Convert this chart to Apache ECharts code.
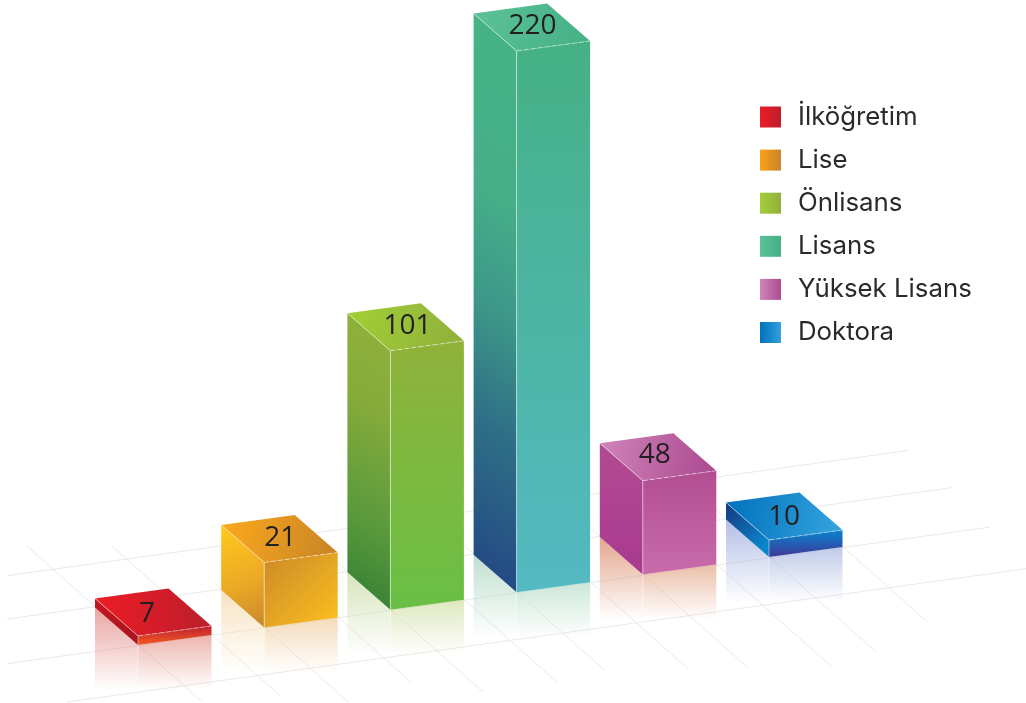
<!DOCTYPE html>
<html><head><meta charset="utf-8">
<style>html,body{margin:0;padding:0;background:#fff}#c{width:1026px;height:703px}</style>
<script src="https://cdn.jsdelivr.net/npm/echarts@6/dist/echarts.min.js"></script>
</head><body><div id="c"></div>
<script>
// Category names and the numbers printed on the bars
const categories = ['İlköğretim', 'Lise', 'Önlisans', 'Lisans', 'Yüksek Lisans', 'Doktora'];
const printedValues = [7, 21, 101, 220, 48, 10];
// The drawn bars are not proportional to the printed numbers: heights, in axis units
const drawnHeights = [3.7, 26.4, 105.3, 220, 38.2, 6.9];

const LEGEND_FONT = 'Inter', LABEL_FONT = '"Open Sans"';
const LEFT = [-43, -37.5], RIGHT = [73.5, -10];   // projection of a bar's footprint edges
const FLOOR_RISE = 17.6;                          // floor climbs this much per category
const REFLECT = 45;

const lin = (x, y, x2, y2, ...cols) => ({
  type: 'linear', x, y, x2, y2,
  colorStops: cols.map(c => ({ offset: c[0], color: c[1] }))
});
const two = (x, y, x2, y2, a, b) => lin(x, y, x2, y2, [0, a], [1, b]);
const skins = [
  { top: two(0,0,1,0,'#ed1c24','#bb1e2d'), left: two(0,0,1,1,'#c4161f','#a8141f'), right: two(0,0,0,1,'#bf1f2e','#f15a24'),
    legend: two(0,0,1,0,'#ed1c24','#be1e2d'), rl:'rgba(225,130,125,.72)', rr:'rgba(225,135,125,.62)', dx: 9, dy: -22 },
  { top: two(0,0,1,.6,'#fca91c','#c98527'), left: lin(0,0,1,1,[0,'#ffc91a'],[.55,'#ecaa26'],[1,'#c9872a']), right: two(0,0,1,1,'#cc8928','#fcc01f'),
    legend: two(0,0,1,0,'#f9a11b','#c98527'), rl:'rgba(245,215,165,.7)', rr:'rgba(240,205,160,.72)', dx: 16, dy: -24 },
  { top: two(0,0,1,.6,'#a2d035','#8fb03c'), left: lin(2.5,0,-1.5,1,[.12,'#90b23b'],[.35,'#86ab3b'],[.65,'#5a9a3c'],[.88,'#357f34']), right: two(0,0,0,1,'#8fb23a','#69bf45'),
    legend: two(0,0,1,0,'#a4cd39','#8fb03c'), rl:'rgba(205,222,170,.8)', rr:'rgba(214,226,175,.8)', dx: 17, dy: -25 },
  { top: two(0,0,1,.6,'#5cc298','#46b086'), left: lin(5,0,-4,1,[.2,'#46b287'],[.37,'#46ae88'],[.515,'#3c9688'],[.65,'#2f6f86'],[.83,'#234a84']), right: two(0,0,0,1,'#46b085','#54b9c2'),
    legend: two(0,0,1,0,'#5cc198','#47b086'), rl:'rgba(175,215,195,.8)', rr:'rgba(190,225,205,.8)', dx: 16, dy: -25 },
  { top: two(0,0,1,.5,'#cf84b9','#ac4a90'), left: two(0,0,0,1,'#b24b91','#a93a90'), right: two(0,0,0,1,'#b24e91','#c96bab'),
    legend: two(0,0,1,0,'#cf84b9','#ae4d92'), rl:'rgba(222,150,120,.85)', rr:'rgba(228,170,140,.75)', dx: 12, dy: -26 },
  { top: two(0,0,1,.5,'#0071bc','#34a3dd'), left: two(0,0,1,.7,'#14387f','#0a86cc'), right: two(0,0,0,1,'#0885cf','#3f3795'),
    legend: two(0,0,1,0,'#0071bc','#34a0dc'), rl:'rgba(165,178,225,.85)', rr:'rgba(170,185,225,.75)', dx: 15, dy: -23 }
];

function renderBar(params, api) {
  const i = api.value(0);
  const shift = i * FLOOR_RISE;
  const b = api.coord([i, 0]);
  const t = api.coord([i, api.value(1)]);
  const fx = b[0], fb = b[1] - shift, ft = t[1] - shift;
  const s = skins[i];
  const add = (p, v) => [p[0] + v[0], p[1] + v[1]];
  const F = [fx, ft], L = add(F, LEFT), R = add(F, RIGHT), B = add(L, RIGHT);
  const Fb = [fx, fb], Lb = add(Fb, LEFT), Rb = add(Fb, RIGHT);
  const floorY = fb + REFLECT;
  const poly = (points, fill) => ({ type: 'polygon', shape: { points }, style: { fill }, silent: true });
  const fade = c => ({ type:'linear', x:0, y:0, x2:0, y2:1, colorStops:[{offset:0,color:c},{offset:1,color:c.replace(/[\d.]+\)$/, '0)')}] });
  const edge = { stroke: 'rgba(255,255,255,.55)', lineWidth: 0.9, fill: null };
  return {
    type: 'group',
    children: [
      poly([Lb, Fb, [fx, floorY], [Lb[0], floorY]], fade(s.rl)),
      poly([Fb, Rb, [Rb[0], floorY], [fx, floorY]], fade(s.rr)),
      { type: 'line', shape: { x1: fx, y1: fb, x2: fx, y2: floorY }, style: { stroke: 'rgba(255,255,255,.45)', lineWidth: 1 } },
      poly([L, F, Fb, Lb], s.left),
      poly([F, R, Rb, Fb], s.right),
      poly([L, B, R, F], s.top),
      { type: 'line', shape: { x1: fx, y1: ft, x2: fx, y2: fb }, style: edge },
      { type: 'line', shape: { x1: L[0], y1: L[1], x2: fx, y2: ft }, style: edge },
      { type: 'line', shape: { x1: fx, y1: ft, x2: R[0], y2: R[1] }, style: { ...edge, lineDash: [5, 2] } },
      { type: 'text', style: {
          x: fx + s.dx, y: ft + s.dy, text: String(api.value(2)), fill: '#231f20',
          font: '400 28px ' + LABEL_FONT, align: 'center', verticalAlign: 'middle' } }
    ]
  };
}

// Decorative floor grid
const floorLines = [];
const SLOPE = -0.139, DEPTH = 0.89, LINE = { stroke: '#e3e3e3', lineWidth: 0.8 };
[[7, 575.7, 909], [7, 619, 952], [7, 663.7, 990], [67, 702, 1026]].forEach(([x, y, end]) => {
  floorLines.push({ type: 'line', z: 0, silent: true, shape: { x1: x, y1: y, x2: end, y2: y + SLOPE * (end - x) }, style: LINE });
});
[[27,546,702],[112,546,696],[173,583,702],[258,610,683],[319,555,692],[404,590,682],[465,540,670],
 [550,575,669],[611,522,668],[696,555,666],[757,505,653],[842,491,623]].forEach(([ix, y1, y2]) => {
  floorLines.push({ type: 'line', z: 0, silent: true,
    shape: { x1: ix + (y1 - 546) / DEPTH, y1, x2: ix + (y2 - 546) / DEPTH, y2 }, style: LINE });
});

const chart = echarts.init(document.getElementById('c'), null, { renderer: 'canvas' });
chart.setOption({
  animation: false,
  backgroundColor: '#fff',
  graphic: { elements: floorLines },
  grid: { left: 74.9, width: 757.2, top: 5.4, height: 639.6 },
  xAxis: { type: 'category', data: categories, show: false },
  yAxis: { type: 'value', min: 0, max: 260, show: false },
  legend: {
    orient: 'vertical', left: 760, top: 104, align: 'left', padding: 0,
    itemWidth: 21, itemHeight: 21, itemGap: 17.1, selectedMode: false,
    textStyle: { fontFamily: LEGEND_FONT, fontSize: 25.8, color: '#2b2a2b', padding: [0, 0, 0, 12], lineHeight: 21 },
    data: categories.map((name, i) => ({ name, icon: 'rect', itemStyle: { color: skins[i].legend } }))
  },
  series: categories.map((name, i) => ({
    type: 'custom', name, clip: false, silent: true,
    renderItem: renderBar,
    encode: { x: 0, y: 1 },
    data: [[i, drawnHeights[i], printedValues[i]]]
  }))
});
</script></body></html>
